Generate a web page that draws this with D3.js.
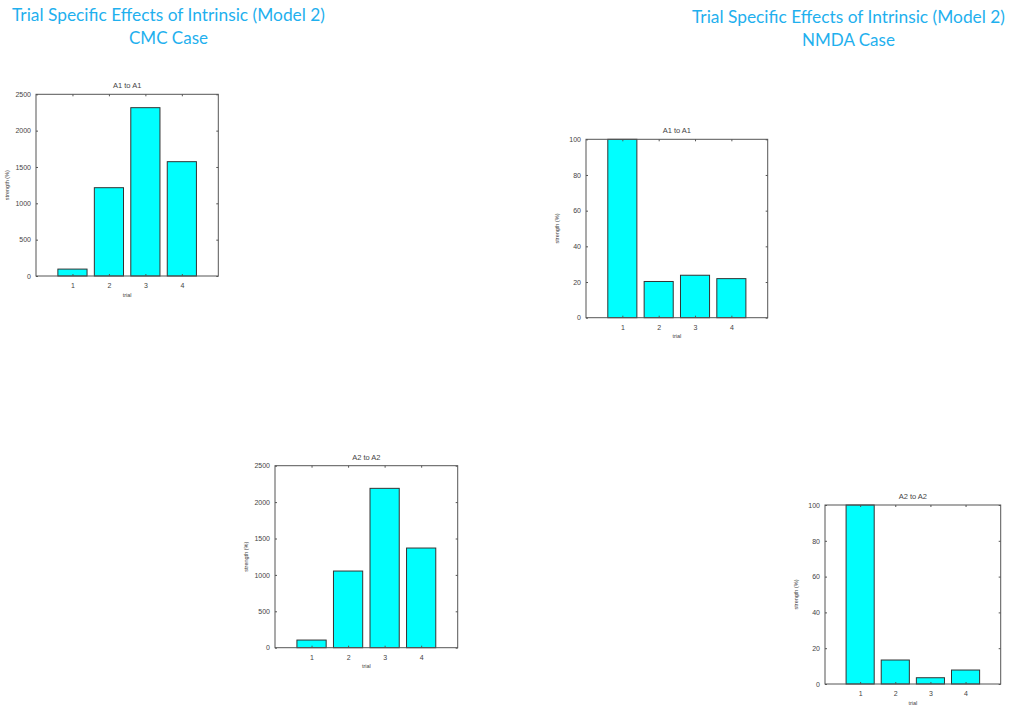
<!DOCTYPE html>
<html>
<head>
<meta charset="utf-8">
<script src="https://cdn.jsdelivr.net/npm/d3@7"></script>
<style>
  html, body { margin: 0; padding: 0; background: #fff; }
  svg { display: block; }
</style>
</head>
<body>
<svg id="chart" width="1014" height="708"></svg>
<script>
// ---- data ----
const trials = [1, 2, 3, 4];
const cmcA1 = [95, 1215, 2316, 1573];
const cmcA2 = [105, 1053, 2189, 1369];
const nmdaA1 = [100, 20.3, 23.8, 21.9];
const nmdaA2 = [100, 13.4, 3.5, 7.8];
const cmcTicks = [0, 500, 1000, 1500, 2000, 2500];
const nmdaTicks = [0, 20, 40, 60, 80, 100];
const titleLines = ["Trial Specific Effects of Intrinsic (Model 2)"];
const caseNames = ["CMC Case", "NMDA Case"];
const panelTitles = ["A1 to A1", "A2 to A2"];

const svg = d3.select("#chart");
const titleColor = "#1fb0ee";
const axisColor = "#555555";
const textColor = "#444444";
const smallFont = "Arial, 'Liberation Sans', sans-serif";

// ---- main titles ----
[[168.5, 21, 43.5, caseNames[0]], [848.5, 23, 45.5, caseNames[1]]].forEach(([cx, y1, y2, name]) => {
  svg.append("text").attr("x", cx).attr("y", y1)
    .attr("text-anchor", "middle")
    .attr("font-family", "Lato, 'Open Sans', sans-serif")
    .attr("font-size", 17).attr("fill", titleColor)
    .attr("textLength", 313).attr("lengthAdjust", "spacingAndGlyphs")
    .text(titleLines[0]);
  svg.append("text").attr("x", cx).attr("y", y2)
    .attr("text-anchor", "middle")
    .attr("font-family", "Lato, 'Open Sans', sans-serif")
    .attr("font-size", 17).attr("fill", titleColor)
    .text(name);
});

// ---- panels ----
const panels = [
  { box: [36, 94.3, 218.3, 276], values: cmcA1, ticks: cmcTicks, max: 2500, title: panelTitles[0] },
  { box: [586, 139.3, 767.7, 317.7], values: nmdaA1, ticks: nmdaTicks, max: 100, title: panelTitles[0] },
  { box: [275, 465.7, 457.7, 647.7], values: cmcA2, ticks: cmcTicks, max: 2500, title: panelTitles[1] },
  { box: [825, 505, 1000.7, 684], values: nmdaA2, ticks: nmdaTicks, max: 100, title: panelTitles[1] }
];

panels.forEach(p => {
  const [x0, y0, x1, y1] = p.box;
  const x = d3.scaleLinear().domain([0, 5]).range([x0, x1]);
  const y = d3.scaleLinear().domain([0, p.max]).range([y1, y0]);
  const g = svg.append("g");
  const bw = x(0.8) - x(0);

  // bars
  g.selectAll("rect.bar").data(trials).enter().append("rect")
    .attr("class", "bar")
    .attr("x", d => x(d) - bw / 2)
    .attr("width", bw)
    .attr("y", (d, i) => y(p.values[i]))
    .attr("height", (d, i) => y1 - y(p.values[i]))
    .attr("fill", "#00ffff")
    .attr("stroke", "#333333")
    .attr("stroke-width", 1);

  // box
  g.append("rect").attr("x", x0).attr("y", y0)
    .attr("width", x1 - x0).attr("height", y1 - y0)
    .attr("fill", "none").attr("stroke", axisColor).attr("stroke-width", 1);

  // axes: left & bottom with labels, inward ticks
  const yAxis = d3.axisLeft(y).tickValues(p.ticks).tickSize(-2).tickPadding(5).tickFormat(d3.format("d"));
  const xAxis = d3.axisBottom(x).tickValues(trials).tickSize(-2).tickPadding(7).tickFormat(d3.format("d"));
  const yAxisR = d3.axisRight(y).tickValues(p.ticks).tickSize(-2).tickFormat("");
  const xAxisT = d3.axisTop(x).tickValues(trials).tickSize(-2).tickFormat("");

  const style = sel => {
    sel.select(".domain").remove();
    sel.selectAll(".tick line").attr("stroke", axisColor);
    sel.selectAll(".tick text").attr("fill", textColor)
      .attr("font-family", smallFont).attr("font-size", 7);
  };
  g.append("g").attr("transform", `translate(${x0},0)`).call(yAxis).call(style);
  g.append("g").attr("transform", `translate(0,${y1})`).call(xAxis).call(style);
  g.append("g").attr("transform", `translate(${x1},0)`).call(yAxisR).call(style);
  g.append("g").attr("transform", `translate(0,${y0})`).call(xAxisT).call(style);

  // titles / labels
  g.append("text").attr("x", (x0 + x1) / 2).attr("y", y0 - 6)
    .attr("text-anchor", "middle").attr("fill", textColor)
    .attr("font-family", smallFont).attr("font-size", 7.5)
    .text(p.title);
  g.append("text").attr("x", (x0 + x1) / 2).attr("y", y1 + 20.5)
    .attr("text-anchor", "middle").attr("fill", textColor)
    .attr("font-family", smallFont).attr("font-size", 5.5)
    .text("trial");
  g.append("text")
    .attr("transform", `translate(${x0 - 27},${(y0 + y1) / 2}) rotate(-90)`)
    .attr("text-anchor", "middle").attr("fill", textColor)
    .attr("font-family", smallFont).attr("font-size", 5.5)
    .text("strength (%)");
});
</script>
</body>
</html>
